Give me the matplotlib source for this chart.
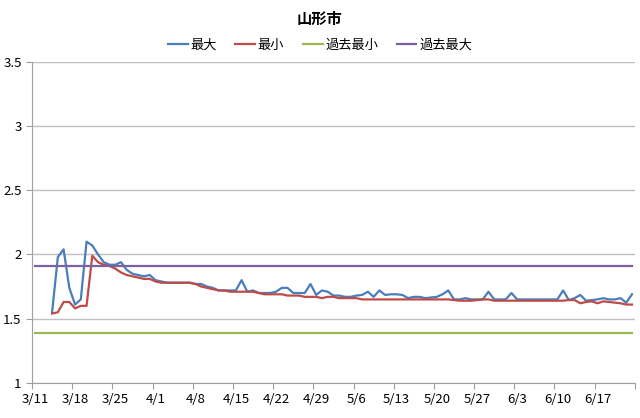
import numpy as np
import pandas as pd
import matplotlib
matplotlib.use("Agg")
import matplotlib.pyplot as plt

plt.rcParams['font.family'] = ['Noto Sans CJK JP', 'DejaVu Sans']

# daily values 3/14 - 6/23
start = '2011-03-14'
daily_max = [1.55, 1.98, 2.04, 1.74, 1.61, 1.65, 2.10, 2.07, 2.00, 1.94,
             1.92, 1.92, 1.94, 1.88, 1.85, 1.84, 1.83, 1.84, 1.80, 1.79,
             1.78, 1.78, 1.78, 1.78, 1.78, 1.77, 1.77, 1.75, 1.74, 1.72,
             1.72, 1.72, 1.72, 1.80, 1.71, 1.72, 1.70, 1.70, 1.70, 1.71,
             1.74, 1.74, 1.70, 1.70, 1.70, 1.77, 1.685, 1.72, 1.71, 1.68,
             1.68, 1.67, 1.67, 1.68, 1.685, 1.71, 1.67, 1.72, 1.685, 1.69,
             1.69, 1.685, 1.66, 1.67, 1.67, 1.66, 1.665, 1.67, 1.69, 1.72,
             1.65, 1.65, 1.66, 1.65, 1.65, 1.65, 1.71, 1.65, 1.65, 1.65,
             1.70, 1.65, 1.65, 1.65, 1.65, 1.65, 1.65, 1.65, 1.65, 1.72,
             1.645, 1.66, 1.685, 1.64, 1.645, 1.65, 1.66, 1.65, 1.65, 1.66,
             1.625, 1.69]
daily_min = [1.54, 1.55, 1.63, 1.63, 1.58, 1.60, 1.60, 1.99, 1.94, 1.92,
             1.91, 1.89, 1.86, 1.84, 1.83, 1.82, 1.81, 1.81, 1.79, 1.78,
             1.78, 1.78, 1.78, 1.78, 1.78, 1.77, 1.75, 1.74, 1.73, 1.72,
             1.72, 1.71, 1.71, 1.71, 1.71, 1.71, 1.70, 1.69, 1.69, 1.69,
             1.69, 1.68, 1.68, 1.68, 1.67, 1.67, 1.67, 1.66, 1.67, 1.67,
             1.66, 1.66, 1.66, 1.66, 1.65, 1.65, 1.65, 1.65, 1.65, 1.65,
             1.65, 1.65, 1.65, 1.65, 1.65, 1.65, 1.65, 1.65, 1.65, 1.65,
             1.645, 1.64, 1.64, 1.64, 1.645, 1.65, 1.65, 1.64, 1.64, 1.64,
             1.64, 1.64, 1.64, 1.64, 1.64, 1.64, 1.64, 1.64, 1.64, 1.64,
             1.645, 1.645, 1.62, 1.63, 1.635, 1.62, 1.635, 1.63, 1.625, 1.62,
             1.61, 1.61]
past_min = 1.39
past_max = 1.91
tick_labels = ['3/11', '3/18', '3/25', '4/1', '4/8', '4/15', '4/22', '4/29',
               '5/6', '5/13', '5/20', '5/27', '6/3', '6/10', '6/17']

dates = pd.date_range(start, periods=len(daily_max), freq='D')
all_dates = pd.date_range('2011-03-11', dates[-1], freq='D')

fig = plt.figure(figsize=(6.4, 4.18), dpi=100)
ax = fig.add_axes([0.05, 0.084, 0.942, 0.768])

ax.plot(dates, daily_max, color='#4a7ebb', lw=1.6, label='最大')
ax.plot(dates, daily_min, color='#be4b48', lw=1.6, label='最小')
ax.plot(all_dates, np.full(len(all_dates), past_min), color='#98b954', lw=1.6, label='過去最小')
ax.plot(all_dates, np.full(len(all_dates), past_max), color='#7d60a0', lw=1.6, label='過去最大')

ax.set_ylim(1, 3.5)
ax.set_yticks([1, 1.5, 2, 2.5, 3, 3.5])
ax.set_yticklabels(['1', '1.5', '2', '2.5', '3', '3.5'])
ax.grid(axis='y', color='#c0c0c0', lw=1)
ax.set_axisbelow(True)

# tick marks sit between days, labels on the day itself
x0 = pd.Timestamp('2011-03-10 12:00')
ax.set_xlim(x0, x0 + pd.Timedelta(days=105))
ax.set_xticks([x0 + pd.Timedelta(days=7 * k) for k in range(16)])
ax.set_xticklabels([])
ax.set_xticks(pd.date_range('2011-03-11', periods=len(tick_labels), freq='7D'), minor=True)
ax.set_xticklabels(tick_labels, minor=True)
ax.tick_params(axis='x', which='major', length=4, color='#a0a0a0')
ax.tick_params(axis='x', which='minor', length=0, pad=7, labelsize=9.5)
ax.tick_params(axis='y', length=4, color='#a0a0a0', labelsize=9.5)

for s in ['top', 'right']:
    ax.spines[s].set_visible(False)
for s in ['left', 'bottom']:
    ax.spines[s].set_color('#a0a0a0')

fig.suptitle('山形市', y=0.975, fontsize=11, fontweight='bold')
fig.legend(loc='upper center', bbox_to_anchor=(0.5, 0.935), ncol=4, frameon=False,
           fontsize=9.5, handlelength=1.5, handletextpad=0.2, columnspacing=1.4)

fig.savefig('out.png', dpi=100)
